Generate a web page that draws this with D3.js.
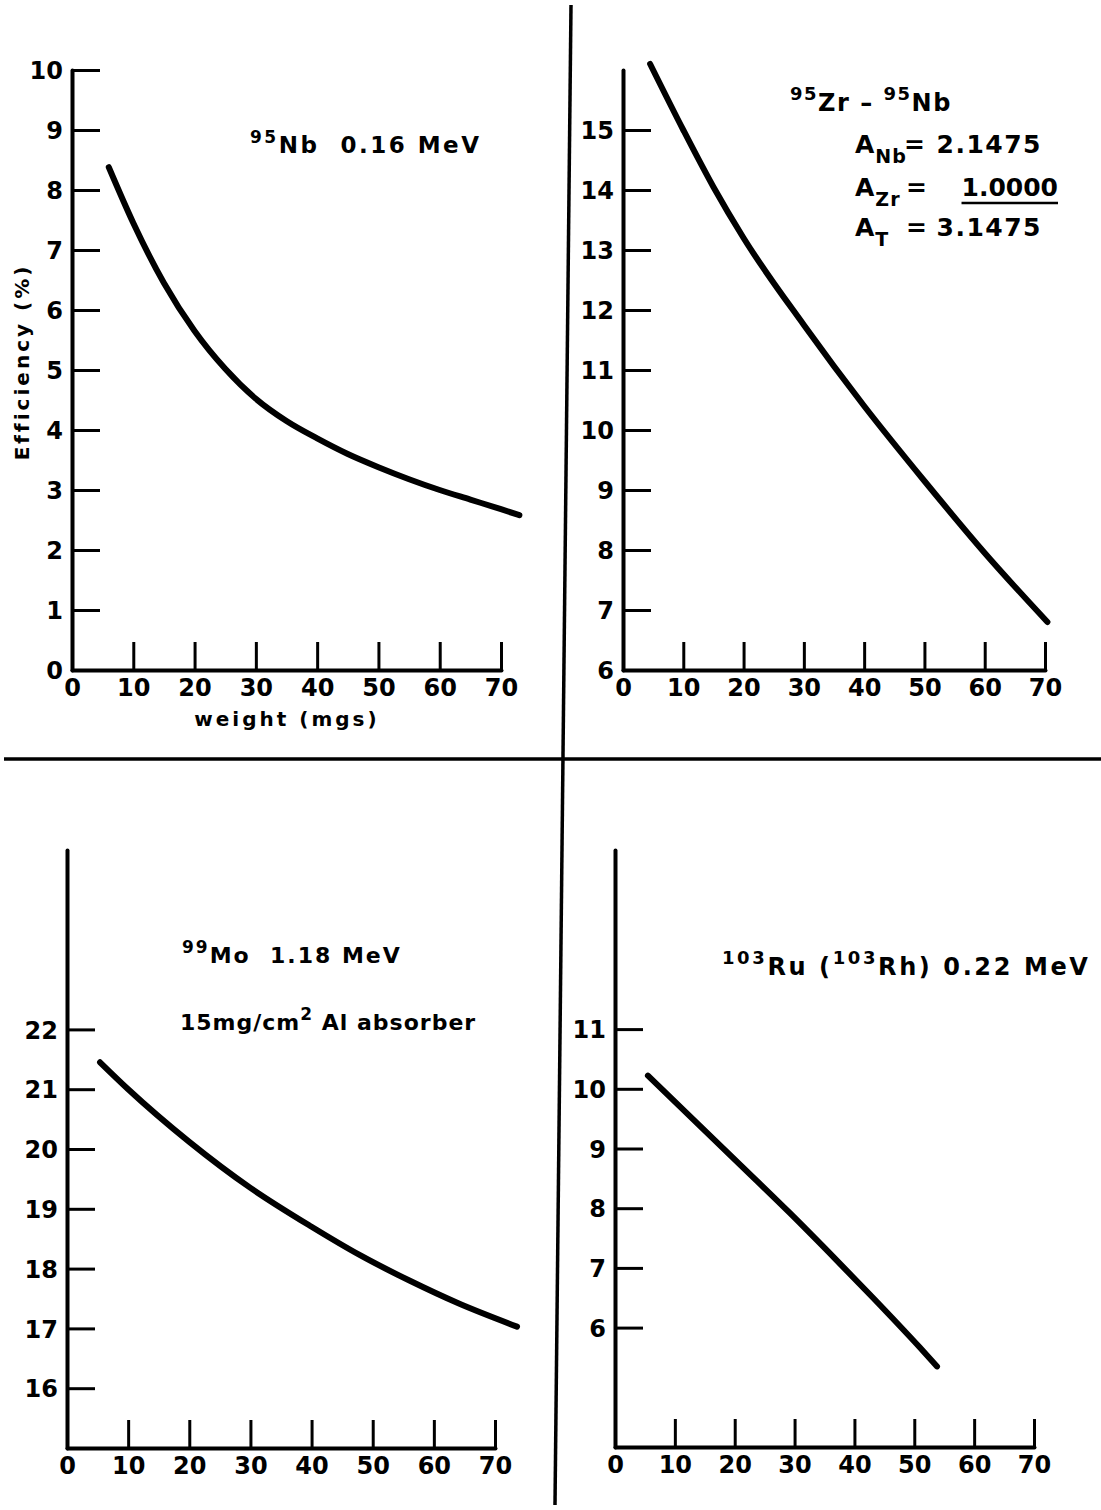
<!DOCTYPE html>
<html>
<head>
<meta charset="utf-8">
<script src="https://cdn.jsdelivr.net/npm/d3@7"></script>
<style>
  html, body { margin: 0; padding: 0; background: #fff; }
  svg { display: block; }
  text { font-family: "DejaVu Sans", sans-serif; font-weight: bold; fill: #000; white-space: pre; }
</style>
</head>
<body>
<svg id="chart" width="1101" height="1510"></svg>
<script>
// ---------------- DATA ----------------
const xTickValues = [0, 10, 20, 30, 40, 50, 60, 70];

// 95Nb 0.16 MeV
const nbWeight = [6, 10, 15, 20, 25, 30, 35, 40, 45, 50, 55, 60, 65, 70, 73];
const nbEff    = [8.38, 7.45, 6.45, 5.65, 5.02, 4.52, 4.15, 3.86, 3.6, 3.38, 3.18, 3.0, 2.84, 2.68, 2.58];
const nbYTicks = [0, 1, 2, 3, 4, 5, 6, 7, 8, 9, 10];

// 95Zr - 95Nb
const zrWeight = [4.5, 10, 15, 20, 30, 40, 50, 60, 70.4];
const zrEff    = [16.1, 15.0, 14.05, 13.2, 11.75, 10.4, 9.15, 7.95, 6.8];
const zrYTicks = [6, 7, 8, 9, 10, 11, 12, 13, 14, 15];

// 99Mo 1.18 MeV
const moWeight = [5.4, 10, 20, 30, 40, 48, 56, 64, 73.6];
const moEff    = [21.45, 21.0, 20.12, 19.35, 18.7, 18.22, 17.8, 17.42, 17.03];
const moYTicks = [16, 17, 18, 19, 20, 21, 22];

// 103Ru (103Rh) 0.22 MeV
const ruWeight = [5.5, 14.7, 21.4, 29.2, 37, 43.1, 50.9, 53.8];
const ruEff    = [10.22, 9.33, 8.68, 7.92, 7.13, 6.5, 5.67, 5.35];
const ruYTicks = [6, 7, 8, 9, 10, 11];

// ---------------- LAYOUT ----------------
const svg = d3.select("#chart");

const panels = [
  { w: nbWeight, e: nbEff, yt: nbYTicks, yDom: [0, 10],  xr: [72, 501],  yr: [670, 70] },
  { w: zrWeight, e: zrEff, yt: zrYTicks, yDom: [6, 16],  xr: [623, 1045], yr: [670, 70] },
  { w: moWeight, e: moEff, yt: moYTicks, yDom: [15, 25], xr: [67, 495],  yr: [1448, 850] },
  { w: ruWeight, e: ruEff, yt: ruYTicks, yDom: [4, 14],  xr: [615, 1034], yr: [1447, 850] }
];

// dividers
svg.append("line").attr("x1", 571).attr("y1", 5).attr("x2", 555).attr("y2", 1505)
  .attr("stroke", "#000").attr("stroke-width", 3.5);
svg.append("line").attr("x1", 4).attr("y1", 759).attr("x2", 1101).attr("y2", 759)
  .attr("stroke", "#000").attr("stroke-width", 3.5);

panels.forEach(p => {
  const x = d3.scaleLinear().domain([0, 70]).range(p.xr);
  const y = d3.scaleLinear().domain(p.yDom).range(p.yr);
  const g = svg.append("g");

  const xAxis = d3.axisBottom(x).tickValues(xTickValues).tickSize(-28).tickSizeOuter(0).tickPadding(8).tickFormat(d3.format("d"));
  const yAxis = d3.axisLeft(y).tickValues(p.yt).tickSize(-28).tickSizeOuter(0).tickPadding(9).tickFormat(d3.format("d"));

  const gx = g.append("g").attr("transform", `translate(0,${p.yr[0]})`).call(xAxis);
  const gy = g.append("g").attr("transform", `translate(${p.xr[0]},0)`).call(yAxis);

  [gx, gy].forEach(a => {
    a.select(".domain").attr("stroke", "#000").attr("stroke-width", 4).attr("stroke-linecap", "round");
    a.selectAll(".tick line").attr("stroke", "#000").attr("stroke-width", 3);
    a.selectAll(".tick text").style("font-size", "24px").style("font-family", "DejaVu Sans").style("font-weight", "bold").attr("fill", "#000");
  });
  gx.selectAll(".tick text").attr("dy", "0.75em");
  gy.selectAll(".tick text").attr("dy", "0.36em");

  const line = d3.line().x(d => x(d[0])).y(d => y(d[1])).curve(d3.curveMonotoneX);
  g.append("path")
    .datum(d3.zip(p.w, p.e))
    .attr("d", line)
    .attr("fill", "none").attr("stroke", "#000").attr("stroke-width", 6)
    .attr("stroke-linecap", "round").attr("stroke-linejoin", "round");
});

// ---------------- TEXT ----------------
function rich(x, y, parts, size, spacing, anchor) {
  const t = svg.append("text").attr("x", x).attr("y", y)
    .style("font-size", size + "px").style("letter-spacing", spacing + "px")
    .attr("text-anchor", anchor || "start");
  let shift = 0;
  parts.forEach(pt => {
    let target = 0, fs = size;
    if (pt.sup) { target = -Math.round(size * 0.45); fs = Math.round(size * 0.75); }
    if (pt.sub) { target = Math.round(size * 0.38); fs = Math.round(size * 0.75); }
    t.append("tspan").attr("dy", target - shift).style("font-size", fs + "px").text(pt.t);
    shift = target;
  });
  return t;
}

// axis titles
svg.append("text").attr("transform", "translate(29,362) rotate(-90)")
  .attr("text-anchor", "middle").style("font-size", "20px").style("letter-spacing", "3px")
  .text("Efficiency (%)");
svg.append("text").attr("x", 287).attr("y", 726).attr("text-anchor", "middle")
  .style("font-size", "20px").style("letter-spacing", "3px").text("weight (mgs)");

// panel labels
rich(250, 153, [{t: "95", sup: true}, {t: "Nb  0.16 MeV"}], 23, 2.5);

rich(790, 111, [{t: "95", sup: true}, {t: "Zr – "}, {t: "95", sup: true}, {t: "Nb"}], 24, 1.5);
rich(855, 153, [{t: "A"}, {t: "Nb", sub: true}], 25, 1);
svg.append("text").attr("x", 1042).attr("y", 153).attr("text-anchor", "end")
  .style("font-size", "25px").style("letter-spacing", "1.5px").text("= 2.1475");
rich(855, 196, [{t: "A"}, {t: "Zr", sub: true}], 25, 1);
svg.append("text").attr("x", 906).attr("y", 196).style("font-size", "25px").text("=");
const one = svg.append("text").attr("x", 1058).attr("y", 196).attr("text-anchor", "end")
  .style("font-size", "25px").style("letter-spacing", "0px").text("1.0000");
const ob = one.node().getBBox();
svg.append("line").attr("x1", ob.x).attr("x2", ob.x + ob.width).attr("y1", 203).attr("y2", 203)
  .attr("stroke", "#000").attr("stroke-width", 2.5);
rich(855, 236, [{t: "A"}, {t: "T", sub: true}], 25, 1);
svg.append("text").attr("x", 906).attr("y", 236).style("font-size", "25px").text("=");
svg.append("text").attr("x", 1042).attr("y", 236).attr("text-anchor", "end")
  .style("font-size", "25px").style("letter-spacing", "1.5px").text("3.1475");

rich(182, 963, [{t: "99", sup: true}, {t: "Mo  1.18 MeV"}], 22, 2);
rich(180, 1030, [{t: "15mg/cm"}, {t: "2", sup: true}, {t: " Al absorber"}], 22, 1);

rich(722, 975, [{t: "103", sup: true}, {t: "Ru ("}, {t: "103", sup: true}, {t: "Rh) 0.22 MeV"}], 24, 2.6);
</script>
</body>
</html>
